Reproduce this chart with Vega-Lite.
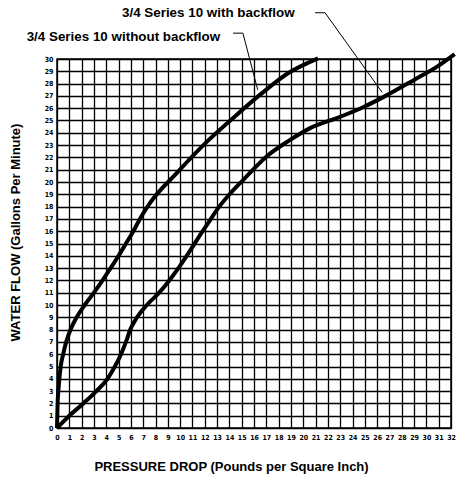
{
  "$schema": "https://vega.github.io/schema/vega-lite/v6.json",
  "width": 394,
  "height": 369,
  "autosize": {"type": "none"},
  "padding": {"left": 57, "top": 59, "right": 11, "bottom": 58},
  "background": "white",
  "config": {
    "view": {"stroke": "black", "strokeWidth": 1.5},
    "axis": {
      "grid": true,
      "gridColor": "black",
      "gridOpacity": 1,
      "gridWidth": 1.3,
      "ticks": false,
      "domain": false,
      "labelFont": "DejaVu Sans Condensed",
      "labelFontWeight": "bold",
      "labelFontSize": 7,
      "labelColor": "black",
      "labelFlush": false,
      "labelOverlap": false,
      "titleFont": "Liberation Sans",
      "titleFontWeight": "bold",
      "titleFontSize": 13,
      "titleColor": "black"
    }
  },
  "datasets": {
    "curves": [
      {"series": "without", "pressure": 0, "flow": 0},
      {"series": "without", "pressure": 0.05, "flow": 2},
      {"series": "without", "pressure": 0.15, "flow": 3.5},
      {"series": "without", "pressure": 0.3, "flow": 5},
      {"series": "without", "pressure": 0.5, "flow": 6},
      {"series": "without", "pressure": 0.75, "flow": 7},
      {"series": "without", "pressure": 1.1, "flow": 8},
      {"series": "without", "pressure": 1.6, "flow": 9},
      {"series": "without", "pressure": 2.25, "flow": 10},
      {"series": "without", "pressure": 3.0, "flow": 11},
      {"series": "without", "pressure": 3.7, "flow": 12},
      {"series": "without", "pressure": 4.35, "flow": 13},
      {"series": "without", "pressure": 5.0, "flow": 14},
      {"series": "without", "pressure": 5.6, "flow": 15},
      {"series": "without", "pressure": 6.2, "flow": 16},
      {"series": "without", "pressure": 6.85, "flow": 17.2},
      {"series": "without", "pressure": 7.56, "flow": 18.3},
      {"series": "without", "pressure": 9.7, "flow": 20.7},
      {"series": "without", "pressure": 12.2, "flow": 23.3},
      {"series": "without", "pressure": 14.3, "flow": 25.2},
      {"series": "without", "pressure": 16.5, "flow": 27.1},
      {"series": "without", "pressure": 18.7, "flow": 28.8},
      {"series": "without", "pressure": 21.2, "flow": 30.05},
      {"series": "with", "pressure": 0, "flow": 0},
      {"series": "with", "pressure": 1.0, "flow": 1},
      {"series": "with", "pressure": 2.14, "flow": 2},
      {"series": "with", "pressure": 3.2, "flow": 3},
      {"series": "with", "pressure": 4.1, "flow": 4},
      {"series": "with", "pressure": 4.7, "flow": 5},
      {"series": "with", "pressure": 5.2, "flow": 6},
      {"series": "with", "pressure": 5.6, "flow": 7},
      {"series": "with", "pressure": 5.95, "flow": 8},
      {"series": "with", "pressure": 6.5, "flow": 9},
      {"series": "with", "pressure": 7.3, "flow": 10},
      {"series": "with", "pressure": 8.3, "flow": 11},
      {"series": "with", "pressure": 9.2, "flow": 12.1},
      {"series": "with", "pressure": 10.0, "flow": 13.2},
      {"series": "with", "pressure": 10.8, "flow": 14.4},
      {"series": "with", "pressure": 11.5, "flow": 15.5},
      {"series": "with", "pressure": 12.3, "flow": 16.7},
      {"series": "with", "pressure": 13.1, "flow": 17.9},
      {"series": "with", "pressure": 14.1, "flow": 19.1},
      {"series": "with", "pressure": 15.15, "flow": 20.2},
      {"series": "with", "pressure": 17.0, "flow": 22.06},
      {"series": "with", "pressure": 18.9, "flow": 23.4},
      {"series": "with", "pressure": 20.6, "flow": 24.4},
      {"series": "with", "pressure": 23.0, "flow": 25.3},
      {"series": "with", "pressure": 24.9, "flow": 26.1},
      {"series": "with", "pressure": 26.5, "flow": 26.9},
      {"series": "with", "pressure": 29.0, "flow": 28.3},
      {"series": "with", "pressure": 30.9, "flow": 29.4},
      {"series": "with", "pressure": 32.3, "flow": 30.4}
    ],
    "leaders": [
      {"series": "without", "step": 1, "pressure": 14.3, "flow": 32.1},
      {"series": "without", "step": 2, "pressure": 15.1, "flow": 32.1},
      {"series": "without", "step": 3, "pressure": 16.3, "flow": 27.5},
      {"series": "with", "step": 1, "pressure": 20.96, "flow": 33.76},
      {"series": "with", "step": 2, "pressure": 21.77, "flow": 33.76},
      {"series": "with", "step": 3, "pressure": 26.4, "flow": 27.3}
    ],
    "labels": [
      {"label": "3/4 Series 10 without backflow", "pressure": 13.25, "flow": 31.75},
      {"label": "3/4 Series 10 with backflow", "pressure": 19.3, "flow": 33.7}
    ]
  },
  "encoding": {
    "x": {
      "field": "pressure", "type": "quantitative",
      "scale": {"domain": [0, 32], "nice": false},
      "axis": {
        "values": [0,1,2,3,4,5,6,7,8,9,10,11,12,13,14,15,16,17,18,19,20,21,22,23,24,25,26,27,28,29,30,31,32],
        "labelPadding": 5,
        "title": "PRESSURE DROP (Pounds per Square Inch)",
        "titleX": 174, "titleY": 38, "titleAlign": "center", "titleBaseline": "middle"
      }
    },
    "y": {
      "field": "flow", "type": "quantitative",
      "scale": {"domain": [0, 30], "nice": false},
      "axis": {
        "values": [0,1,2,3,4,5,6,7,8,9,10,11,12,13,14,15,16,17,18,19,20,21,22,23,24,25,26,27,28,29,30],
        "labelPadding": 4,
        "title": "WATER FLOW (Gallons Per Minute)",
        "titleX": -42, "titleY": 173, "titleAlign": "center", "titleBaseline": "middle", "titleAngle": -90
      }
    }
  },
  "layer": [
    {
      "data": {"name": "curves"},
      "mark": {"type": "line", "interpolate": "monotone", "strokeWidth": 4, "color": "black", "clip": false},
      "encoding": {"detail": {"field": "series"}}
    },
    {
      "data": {"name": "leaders"},
      "mark": {"type": "line", "strokeWidth": 1, "color": "black", "clip": false},
      "encoding": {"detail": {"field": "series"}, "order": {"field": "step"}}
    },
    {
      "data": {"name": "labels"},
      "mark": {"type": "text", "align": "right", "baseline": "middle", "font": "Liberation Sans", "fontWeight": "bold", "fontSize": 13.4, "color": "black"},
      "encoding": {"text": {"field": "label"}}
    }
  ]
}
